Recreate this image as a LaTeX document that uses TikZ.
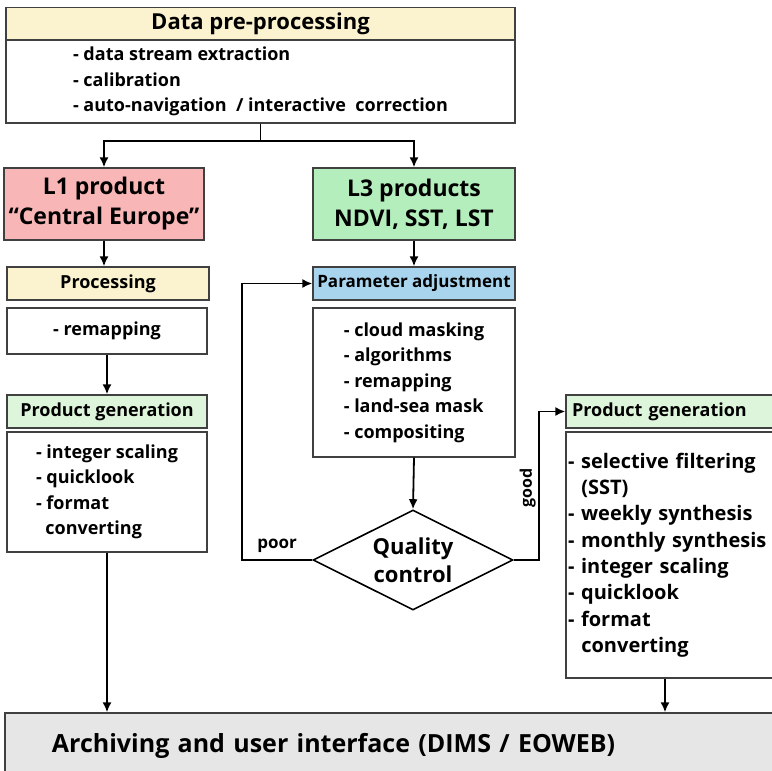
\documentclass[tikz,border=0pt]{standalone}
\usepackage{fontspec}
\setmainfont{Open Sans}
\usepackage{xcolor}
\usetikzlibrary{positioning,shapes,shapes.geometric,calc,arrows.meta}
\definecolor{headYellow}{HTML}{FBF3CF}
\definecolor{lOnePink}{HTML}{F8B6B6}
\definecolor{lThreeGreen}{HTML}{B4EEBC}
\definecolor{genGreen}{HTML}{DDF5DB}
\definecolor{paramBlue}{HTML}{A9D4EE}
\definecolor{archGray}{HTML}{E6E6E6}
\tikzstyle{boxBase} =[rectangle, draw=black!75, line width=1.3pt, inner sep=2pt]
\tikzstyle{nodeHead}=[boxBase, minimum height=33pt, font=\bfseries\fontsize{18}{20}\selectfont]
\tikzstyle{nodeBody}=[boxBase, fill=white, align=left, font=\bfseries\fontsize{18}{25.5}\selectfont]
\tikzstyle{nodeProd}=[boxBase, minimum width=200pt, minimum height=72pt, align=center, font=\bfseries\fontsize{23}{30}\selectfont]
\tikzstyle{nodeCheck}=[diamond, draw=black, line width=1.6pt, aspect=2, inner sep=0pt, minimum width=200pt, minimum height=100pt, align=center, font=\bfseries\fontsize{22}{28}\selectfont]
\tikzstyle{flow}=[line width=1.8pt]

\begin{document}
\begin{tikzpicture}[x=1pt, y=-1pt, >={Latex[length=10pt,width=9pt]}]
  \clip (0,0) rectangle (772,771);
  \useasboundingbox (0,0) rectangle (772,771);
  % pre-processing
  \node[nodeHead, fill=headYellow, minimum width=509pt, font=\bfseries\fontsize{22}{24}\selectfont] (preHead) at (260.5,24) {Data pre-processing};
  \node[nodeBody, minimum width=509pt, minimum height=83pt, font=\bfseries\fontsize{18}{25.5}\selectfont] (preBody) at (260.5,81.5)
    {- data stream extraction\\- calibration\\- auto-navigation~ / interactive~ correction};
  % products
  \node[nodeProd, fill=lOnePink] (lOne) at (104,204) {L1 product\\``Central Europe''};
  \node[nodeProd, fill=lThreeGreen, minimum width=202pt] (lThree) at (414,204) {L3 products\\NDVI, SST, LST};
  % L1 branch
  \node[nodeHead, fill=headYellow, minimum width=202pt] (procHead) at (108,283.5) {Processing};
  \node[nodeBody, minimum width=200pt, minimum height=46pt] (remap) at (107,331) {- remapping};
  \node[nodeHead, fill=genGreen, minimum width=200pt] (genLHead) at (107,411.5) {Product generation};
  \node[nodeBody, minimum width=200pt, minimum height=120pt] (genLBody) at (107,492)
    {- integer scaling\\- quicklook\\- format\\\ \ converting};
  % L3 branch
  \node[nodeHead, fill=paramBlue, minimum width=202pt, font=\bfseries\fontsize{17}{20}\selectfont] (parHead) at (414,283.5) {Parameter adjustment};
  \node[nodeBody, minimum width=202pt, minimum height=149pt] (parBody) at (414,382.5)
    {- cloud masking\\- algorithms\\- remapping\\- land-sea mask\\- compositing};
  \node[nodeCheck] (check) at (413,560) {Quality\\control};
  \node[nodeHead, fill=genGreen, minimum width=212pt, text width=200pt, align=left] (genRHead) at (672,411.5) {Product generation};
  \node[nodeBody, minimum width=212pt, minimum height=246pt, text width=208pt, inner xsep=1pt, font=\bfseries\fontsize{20}{26.3}\selectfont] (genRBody) at (672,555)
    {- selective filtering\\\ \ (SST)\\- weekly synthesis\\- monthly synthesis\\- integer scaling\\- quicklook\\- format\\\ \ converting};
  % archive
  \node[boxBase, fill=archGray, minimum width=773pt, minimum height=65pt, text width=679pt, align=left, font=\bfseries\fontsize{25}{30}\selectfont] (arch) at (391.5,745.5)
    {Archiving and user interface (DIMS / EOWEB)};

  % connectors
  \draw[flow] (preBody.south) -- ++(0,17) coordinate (split);
  \draw[flow,->] (split) -| (lOne.north);
  \draw[flow,->] (split) -| (lThree.north);
  \draw[flow,->] (lOne.south) -- (lOne.south |- procHead.north);
  \draw[flow,->] (remap.south) -- (genLHead.north);
  \draw[flow,->] (genLBody.south) -- (genLBody.south |- arch.north);
  \draw[flow,->] (lThree.south) -- (parHead.north);
  \draw[flow,->] (parBody.south) -- (check.north);
  \draw[flow,->] (check.west) -- ++(-70,0) node[midway, above=3pt, font=\bfseries\fontsize{17}{20}\selectfont] {poor} |- (parHead.west);
  \draw[flow,->] (check.east) -- ++(25,0) coordinate (goodTurn) |- (genRHead.west);
  \node[rotate=90, anchor=south, inner sep=3pt, font=\bfseries\fontsize{16}{18}\selectfont] (goodLabel) at ($(goodTurn)+(0,-72)$) {good};
  \draw[flow,->] ($(genRBody.south)+(-7,0)$) coordinate (rOut) -- (rOut |- arch.north);
\end{tikzpicture}
\end{document}
